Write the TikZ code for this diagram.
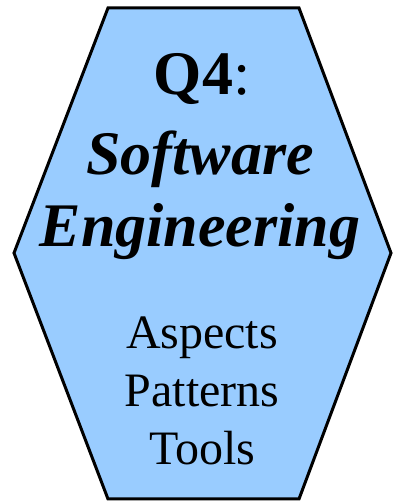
\documentclass[tikz,border=0pt]{standalone}
\usepackage{fontspec}
\setmainfont{Liberation Serif}
\definecolor{hexfill}{RGB}{153,204,255}
\tikzset{
  hexagon/.style={draw=black, line width=3pt, fill=hexfill, line join=miter},
  title/.style={anchor=base, inner sep=0pt, font=\fontsize{62}{70}\selectfont},
  subject/.style={anchor=base, inner sep=0pt, font=\fontsize{62}{70}\selectfont\bfseries\itshape},
  topic/.style={anchor=base, inner sep=0pt, font=\fontsize{48}{56}\selectfont},
}
\begin{document}
\begin{tikzpicture}[x=1pt,y=1pt]
  \useasboundingbox (0,0) rectangle (394,504);
  % hexagonal frame
  \coordinate (tl) at (108,496);
  \coordinate (tr) at (299,496);
  \coordinate (r)  at (391,251);
  \coordinate (br) at (299,5);
  \coordinate (bl) at (108,5);
  \coordinate (l)  at (14,251);
  \draw[hexagon] (tl) -- (tr) -- (r) -- (br) -- (bl) -- (l) -- cycle;
  % heading
  \node[title]   (q)   at (202,409) {\textbf{Q4}:};
  \node[subject] (sw)  at (200,329) {Software};
  \node[subject] (eng) at (200,257) {Engineering};
  % topics
  \node[topic] (asp) at (202,155) {Aspects};
  \node[topic] (pat) at (202,97)  {Patterns};
  \node[topic] (tls) at (202,39)  {Tools};
\end{tikzpicture}
\end{document}
